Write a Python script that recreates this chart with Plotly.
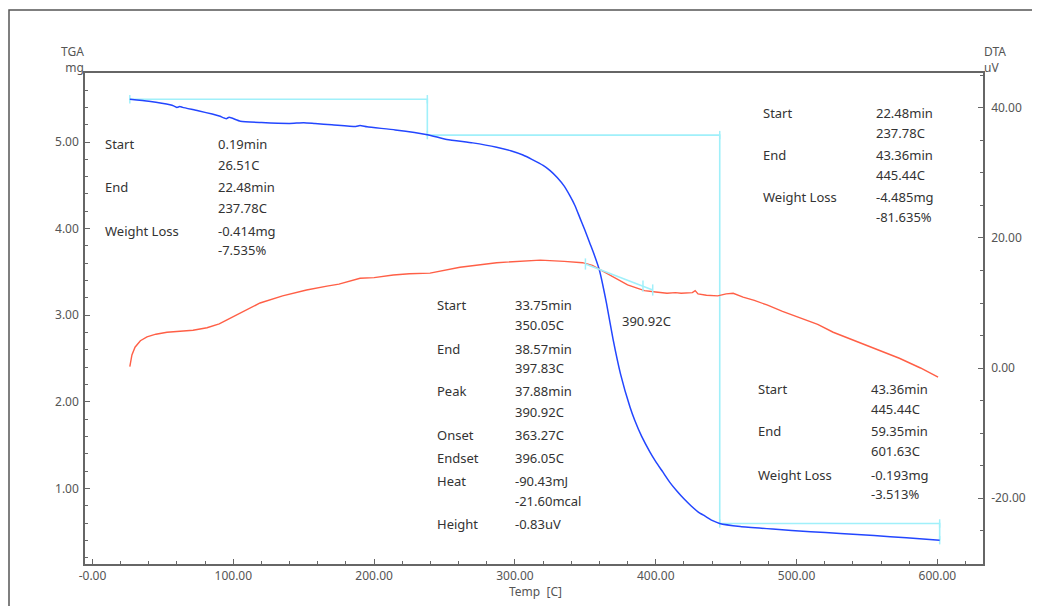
import plotly.graph_objects as go

# ---------------- data ----------------
tga_temp = [26.5, 40, 55, 58, 60, 62, 64, 75, 90, 95, 97, 105, 120, 140, 150, 158, 170, 187, 190, 195,
            215, 237.8, 251.6, 270, 287, 297, 305.7, 312, 320, 325, 330, 335, 339, 342.5, 346, 349.5, 353,
            356.5, 360, 365, 369.7, 375, 381.7, 385, 390, 395.9, 400, 405, 410, 415, 420, 425, 430, 435,
            440, 445.4, 460, 483, 510, 531, 555, 578, 601.6]
tga_mass = [5.494, 5.47, 5.43, 5.415, 5.40, 5.41, 5.40, 5.36, 5.30, 5.27, 5.285, 5.24, 5.225, 5.215, 5.222,
            5.213, 5.20, 5.18, 5.19, 5.175, 5.14, 5.085, 5.03, 4.99, 4.94, 4.90, 4.85, 4.80, 4.73, 4.67,
            4.59, 4.49, 4.38, 4.27, 4.13, 3.99, 3.84, 3.69, 3.52, 3.14, 2.72, 2.32, 1.94, 1.79, 1.60, 1.42,
            1.31, 1.19, 1.07, 0.97, 0.88, 0.80, 0.73, 0.68, 0.63, 0.595, 0.56, 0.53, 0.50, 0.48, 0.455,
            0.43, 0.40]

dta_temp = [26.5, 28, 30.2, 34, 38.7, 45, 52.9, 62, 71.4, 81.3, 90, 95.5, 105, 119, 135, 152, 166.5, 175,
            190, 200, 213.6, 225, 239.7, 250, 261, 287, 300, 318, 335, 348, 355, 360, 367, 374.6, 380,
            386.7, 392, 400, 408, 414, 418, 426, 428, 430, 436, 444, 450, 455, 462, 470, 479, 490, 502.5,
            515, 526, 538, 550, 562, 573, 588, 600.5]
dta_uv = [0.2, 2.0, 3.2, 4.2, 4.8, 5.2, 5.5, 5.7, 5.8, 6.2, 6.8, 7.4, 8.5, 10.0, 11.1, 12.0, 12.6, 12.9,
          13.8, 13.9, 14.3, 14.5, 14.6, 15.0, 15.5, 16.2, 16.4, 16.6, 16.4, 16.2, 15.8, 15.2, 14.4, 13.5,
          12.8, 12.3, 11.9, 11.7, 11.5, 11.6, 11.5, 11.6, 11.9, 11.4, 11.2, 11.1, 11.4, 11.5, 10.9, 10.4,
          9.7, 8.7, 7.7, 6.7, 5.5, 4.5, 3.5, 2.5, 1.5, 0.0, -1.4]

# step analysis line (TGA): start, end temps and masses
step_temp = [26.51, 237.78, 237.78, 445.44, 445.44, 601.63, 601.63]
step_mass = [5.494, 5.494, 5.080, 5.080, 0.595, 0.595, 0.402]

# DTA peak baseline
base_temp = [350.05, 390.92, 397.83]
base_uv = [16.0, 12.6, 12.0]

x_ticks = [0, 100, 200, 300, 400, 500, 600]
x_ticktext = ["-0.00", "100.00", "200.00", "300.00", "400.00", "500.00", "600.00"]
y_ticks = [1, 2, 3, 4, 5]
y_ticktext = ["1.00", "2.00", "3.00", "4.00", "5.00"]
y2_ticks = [-20, 0, 20, 40]
y2_ticktext = ["-20.00", "0.00", "20.00", "40.00"]

# ---------------- layout geometry ----------------
OFF = 8                      # page body margin
W, H = 1040 - OFF, 606 - OFF
PLOT_L, PLOT_T, PW, PH = 85, 73, 898, 491   # plot area in page pixels
L, T = PLOT_L - OFF, PLOT_T - OFF
R, B = W - L - PW, H - T - PH


def px(xp):
    return (xp - PLOT_L) / PW


def py(yp):
    return (PLOT_T + PH - yp) / PH


AX = "#666666"
TXT = "#333333"
FONT = "Noto Sans"

fig = go.Figure()

fig.add_trace(go.Scatter(x=dta_temp, y=dta_uv, mode="lines", yaxis="y2",
                         line=dict(color="rgb(255,95,70)", width=1.4), showlegend=False))
fig.add_trace(go.Scatter(x=step_temp, y=step_mass, mode="lines+markers",
                         line=dict(color="rgb(160,240,250)", width=1.6),
                         marker=dict(symbol="line-ns", size=6, line=dict(color="rgb(160,240,250)", width=1.5)),
                         showlegend=False))
fig.add_trace(go.Scatter(x=tga_temp, y=tga_mass, mode="lines", line_shape="spline",
                         line=dict(color="rgb(35,70,255)", width=1.5, smoothing=0.5), showlegend=False))
fig.add_trace(go.Scatter(x=base_temp, y=base_uv, mode="lines+markers", yaxis="y2",
                         line=dict(color="rgb(160,240,250)", width=1.6),
                         marker=dict(symbol="line-ns", size=8, line=dict(color="rgb(160,240,250)", width=1.5)),
                         showlegend=False))

tickfont = dict(family=FONT, size=12, color="#555555")

fig.update_layout(
    width=W, height=H,
    margin=dict(l=L, r=R, t=T, b=B),
    paper_bgcolor="white", plot_bgcolor="white",
    xaxis=dict(range=[-5.33, 632.4], tickvals=x_ticks, ticktext=x_ticktext, ticks="inside",
               ticklen=5, tickcolor=AX, showline=True, linecolor=AX, linewidth=1.5, mirror=True,
               showgrid=False, zeroline=False, tickfont=tickfont,
               minor=dict(dtick=20, tick0=0, ticks="inside", ticklen=3, tickcolor=AX, showgrid=False)),
    yaxis=dict(range=[0.127, 5.797], tickvals=y_ticks, ticktext=y_ticktext, ticks="inside",
               ticklen=5, tickcolor=AX, showline=True, linecolor=AX, linewidth=1.5,
               showgrid=False, zeroline=False, tickfont=tickfont, ticklabelstandoff=2,
               minor=dict(dtick=0.2, tick0=0, ticks="inside", ticklen=3, tickcolor=AX, showgrid=False)),
    yaxis2=dict(range=[-30.15, 45.38], tickvals=y2_ticks, ticktext=y2_ticktext, ticks="inside",
                ticklen=5, tickcolor=AX, showline=True, linecolor=AX, linewidth=1.5,
                overlaying="y", side="right", showgrid=False, zeroline=False, tickfont=tickfont,
                ticklabelstandoff=4,
                minor=dict(dtick=5, tick0=0, ticks="inside", ticklen=3, tickcolor=AX, showgrid=False)),
)

annotations = []


def txt(x, y, s, anchor="left", color=TXT, size=13, align="left"):
    annotations.append(dict(xref="paper", yref="paper", x=px(x), y=py(y), text=s, showarrow=False,
                            xanchor=anchor, yanchor="middle", align=align,
                            font=dict(family=FONT, size=size, color=color)))


# axis titles
txt(86, 59, "TGA<br>mg", anchor="right", color="#555555", size=12, align="right")
txt(982, 59, "DTA<br>uV", anchor="left", color="#555555", size=12, align="left")
txt(535, 591, "Temp  [C]", anchor="center", color="#555555", size=12)

# block 1
for lab, val, y in [("Start", "0.19min", 144), ("", "26.51C", 165), ("End", "22.48min", 187),
                    ("", "237.78C", 208), ("Weight Loss", "-0.414mg", 231), ("", "-7.535%", 250)]:
    if lab:
        txt(103, y, lab)
    txt(216, y, val)

# block 2
for lab, val, y in [("Start", "33.75min", 305), ("", "350.05C", 325), ("End", "38.57min", 349),
                    ("", "397.83C", 368), ("Peak", "37.88min", 391), ("", "390.92C", 412),
                    ("Onset", "363.27C", 435), ("Endset", "396.05C", 458), ("Heat", "-90.43mJ", 481),
                    ("", "-21.60mcal", 501), ("Height", "-0.83uV", 524)]:
    if lab:
        txt(435, y, lab)
    txt(513, y, val)

txt(620, 321, "390.92C")

# block 3
for lab, val, y in [("Start", "22.48min", 113), ("", "237.78C", 133), ("End", "43.36min", 155),
                    ("", "445.44C", 175), ("Weight Loss", "-4.485mg", 197), ("", "-81.635%", 217)]:
    if lab:
        txt(761, y, lab)
    txt(874, y, val)

# block 4
for lab, val, y in [("Start", "43.36min", 389), ("", "445.44C", 409), ("End", "59.35min", 431),
                    ("", "601.63C", 451), ("Weight Loss", "-0.193mg", 475), ("", "-3.513%", 494)]:
    if lab:
        txt(756, y, lab)
    txt(869, y, val)

fig.update_layout(annotations=annotations)

# outer frame
fig.add_shape(type="rect", xref="paper", yref="paper", x0=px(9), x1=px(1060), y0=py(620), y1=py(10),
              line=dict(color="#555555", width=1.5), fillcolor="rgba(0,0,0,0)", layer="below")

fig.write_html("out.html")
